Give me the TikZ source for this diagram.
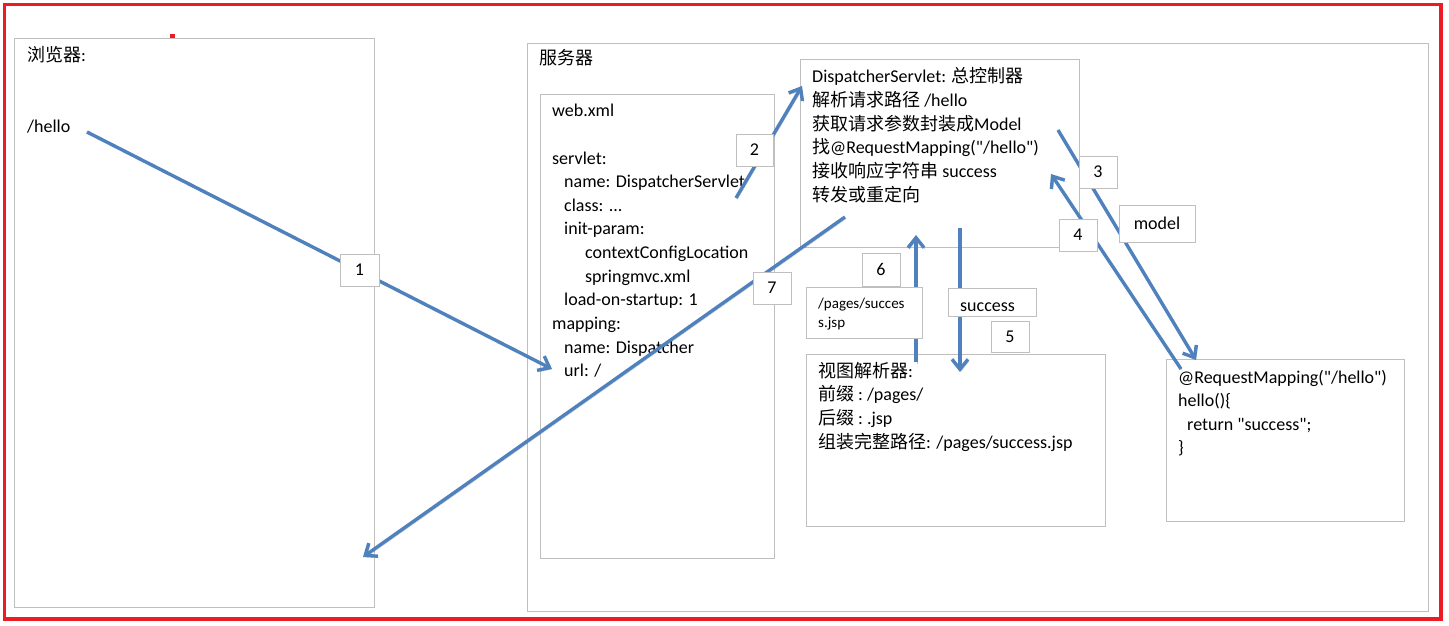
\documentclass[tikz,border=0pt]{standalone}
\usepackage{fontspec}
\setmainfont{Carlito}[Ligatures=TeXOff]
\newfontfamily\cjk{Noto Sans CJK SC}
\usetikzlibrary{arrows.meta}
\definecolor{boxgray}{HTML}{BFBFBF}
\definecolor{arrowblue}{HTML}{4F81BD}
\definecolor{framered}{HTML}{ED1C24}
\newcommand\zh[1]{{\cjk #1}}
\newcommand\fsnorm{\fontsize{18}{22}\selectfont}
\newcommand\fssmall{\fontsize{15}{18}\selectfont}
\begin{document}
\begin{tikzpicture}[x=1pt,y=-1pt,
  bigbox/.style={draw=boxgray, line width=1pt, fill=white, inner sep=0pt, anchor=north west},
  txt/.style={anchor=base west, inner sep=0pt, font=\fsnorm},
  smalltxt/.style={anchor=base west, inner sep=0pt, font=\fssmall},
  lblbox/.style={draw=boxgray, line width=1pt, fill=white, inner sep=0pt, font=\fsnorm},
  flow/.style={draw=arrowblue, line width=3.4pt, -{Straight Barb[length=10pt,width=16pt]},
    preaction={draw=black, draw opacity=0.22, transform canvas={shift={(1.3pt,-1.6pt)}}}}
]
\useasboundingbox (0,0) rectangle (1449,626);
\fill[white] (0,0) rectangle (1449,626);
% red frame
\draw[framered, line width=3.5pt] (4.5,4.5) rectangle (1441,619);
\fill[framered] (169.5,34.5) rectangle (175,39.5);

% big boxes
\node[bigbox, minimum width=360, minimum height=569] (browser) at (14,38) {};
\node[bigbox, minimum width=901, minimum height=568] (server) at (527,43) {};
\node[bigbox, minimum width=234, minimum height=464] (webxml) at (540,94) {};
\node[bigbox, minimum width=279, minimum height=188] (disp) at (800,59) {};
\node[bigbox, minimum width=299, minimum height=172] (view) at (806,354) {};
\node[bigbox, minimum width=238, minimum height=162] (handler) at (1166,359) {};

% browser texts
\node[txt] (btitle) at (27,62) {\zh{浏览器}:};
\node[txt] (bhello) at (27,132) {/hello};

% server title
\node[txt] (stitle) at (539,65) {\zh{服务器}};

% web.xml texts
\node[txt] (w0) at (552,116.7) {web.xml};
\node[txt] (w2) at (552,164.0) {servlet:};
\node[txt] (w3) at (564,187.65) {name: DispatcherServlet};
\node[txt] (w4) at (564,211.3) {class: ...};
\node[txt] (w5) at (564,234.95) {init-param:};
\node[txt] (w6) at (585,258.6) {contextConfigLocation};
\node[txt] (w7) at (585,282.25) {springmvc.xml};
\node[txt] (w8) at (564,305.9) {load-on-startup: 1};
\node[txt] (w9) at (552,329.55) {mapping:};
\node[txt] (w10) at (564,353.2) {name: Dispatcher};
\node[txt] (w11) at (564,376.85) {url: /};

% dispatcher texts
\node[txt] (d0) at (812,82.7) {DispatcherServlet: \zh{总控制器}};
\node[txt] (d1) at (812,106.4) {\zh{解析请求路径} /hello};
\node[txt] (d2) at (812,130.1) {\zh{获取请求参数封装成}Model};
\node[txt] (d3) at (812,153.8) {\zh{找}@RequestMapping("/hello")};
\node[txt] (d4) at (812,177.5) {\zh{接收响应字符串} success};
\node[txt] (d5) at (812,201.2) {\zh{转发或重定向}};

% view resolver texts
\node[txt] (v0) at (818,377) {\zh{视图解析器}:};
\node[txt] (v1) at (818,400.7) {\zh{前缀}\hspace{4pt}:\hspace{4pt}/pages/};
\node[txt] (v2) at (818,424.4) {\zh{后缀}\hspace{4pt}:\hspace{4pt}.jsp};
\node[txt] (v3) at (818,448.1) {\zh{组装完整路径}: /pages/success.jsp};

% handler texts
\node[txt] (h0) at (1178,383) {@RequestMapping("/hello")};
\node[txt] (h1) at (1178,406.5) {hello()\{};
\node[txt] (h2) at (1187,430) {return "success";};
\node[txt] (h3) at (1178,453.5) {\}};

% arrow end points
\coordinate (a1s) at (87,132);   \coordinate (a1e) at (552,369);
\coordinate (a2s) at (736,198);  \coordinate (a2e) at (802,86);
\coordinate (a3s) at (1058,130); \coordinate (a3e) at (1196,360);
\coordinate (a4s) at (1181,369); \coordinate (a4e) at (1051,174);
\coordinate (a5s) at (960,228);  \coordinate (a5e) at (960,372);
\coordinate (a6s) at (916,362);  \coordinate (a6e) at (916,235);
\coordinate (a7s) at (845,217);  \coordinate (a7e) at (363,557);

\draw[flow] (a1s) -- (a1e);
\draw[flow] (a2s) -- (a2e);
\draw[flow] (a3s) -- (a3e);
\draw[flow] (a4s) -- (a4e);
\draw[flow] (a5s) -- (a5e);
\draw[flow] (a6s) -- (a6e);
\draw[flow] (a7s) -- (a7e);

% label boxes
\node[lblbox, minimum width=39, minimum height=32] (n1) at (359.5,270) {1};
\node[lblbox, minimum width=37, minimum height=32] (n2) at (754.5,150) {2};
\node[lblbox, minimum width=38, minimum height=32] (n3) at (1098,172) {3};
\node[lblbox, minimum width=38, minimum height=32] (n4) at (1078,235) {4};
\node[lblbox, minimum width=76, minimum height=37] (nmodel) at (1157,223.5) {model};
\node[lblbox, minimum width=38, minimum height=33] (n6) at (881,269.5) {6};
\node[lblbox, minimum width=38, minimum height=31] (n5) at (1010,336.5) {5};
\node[lblbox, minimum width=38, minimum height=32] (n7) at (772,288) {7};
\node[lblbox, anchor=north west, minimum width=116, minimum height=51] (npages) at (806,287) {};
\node[smalltxt] (pg0) at (818,308) {/pages/succes};
\node[smalltxt] (pg1) at (818,327) {s.jsp};
\node[lblbox, anchor=north west, minimum width=88, minimum height=28] (nsucc) at (948,288) {};
\node[txt] (sc0) at (960,311) {success};
\end{tikzpicture}
\end{document}
